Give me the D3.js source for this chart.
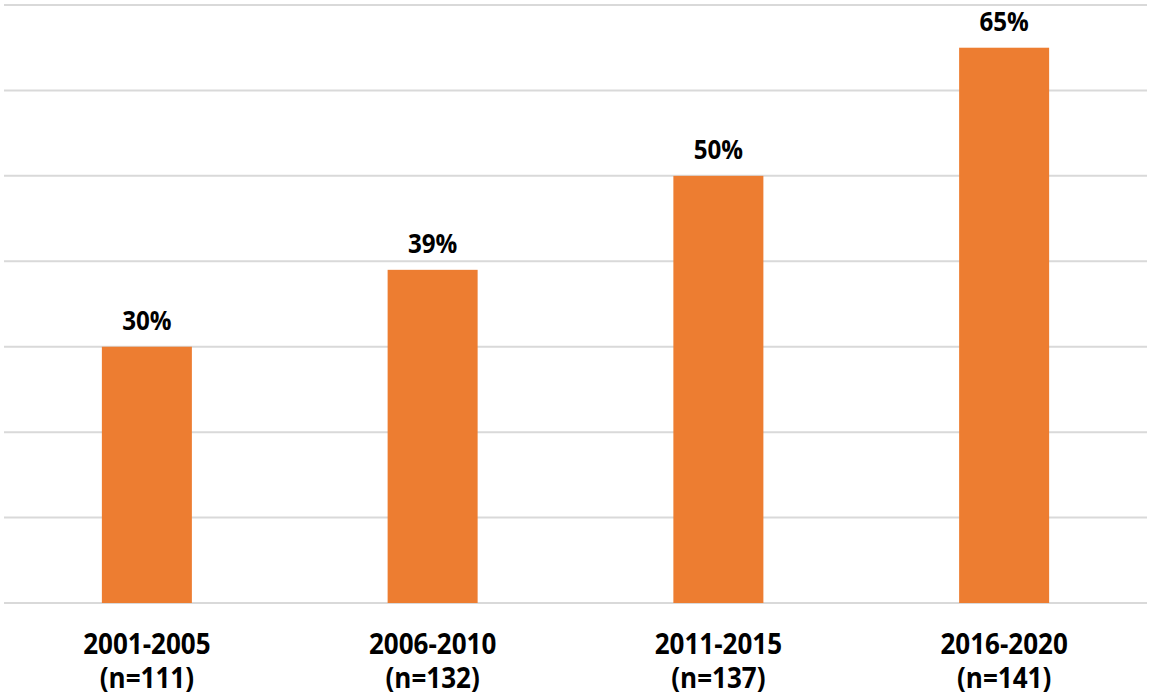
<!DOCTYPE html>
<html>
<head>
<meta charset="utf-8">
<script src="https://cdn.jsdelivr.net/npm/d3@7"></script>
<style>
  body { margin: 0; background: #fff; }
</style>
</head>
<body>
<div id="chart-area"></div>
<script>
// data
var periods = ["2001-2005", "2006-2010", "2011-2015", "2016-2020"];
var samples = ["(n=111)", "(n=132)", "(n=137)", "(n=141)"];
var shares = [30, 39, 50, 65];
var gridTicks = [0, 10, 20, 30, 40, 50, 60, 70];

var width = 1152, height = 700;
var plotLeft = 4, plotRight = 1147, plotTop = 5, plotBottom = 603;
var squeeze = 0.93; // the reference font is a bit narrower

var svg = d3.select("#chart-area")
    .append("svg")
        .attr("width", width)
        .attr("height", height);

var x = d3.scaleBand()
    .domain(periods)
    .range([plotLeft, plotRight])
    .paddingInner(0.685)
    .paddingOuter(0.3425);

var y = d3.scaleLinear()
    .domain([0, 70])
    .range([plotBottom, plotTop]);

// gridlines
svg.append("g")
    .selectAll("line")
    .data(gridTicks)
    .enter().append("line")
        .attr("x1", plotLeft)
        .attr("x2", plotRight)
        .attr("y1", function(d){ return y(d); })
        .attr("y2", function(d){ return y(d); })
        .attr("stroke", "#d9d9d9")
        .attr("stroke-width", 2);

// bars
svg.append("g")
    .selectAll("rect")
    .data(shares)
    .enter().append("rect")
        .attr("x", function(d, i){ return x(periods[i]); })
        .attr("width", x.bandwidth())
        .attr("y", function(d){ return y(d); })
        .attr("height", function(d){ return y(0) - y(d); })
        .attr("fill", "#ED7D31");

function addText(cx, cy, txt, size) {
    svg.append("g")
        .attr("transform", "translate(" + cx + "," + cy + ") scale(" + squeeze + ",1)")
        .append("text")
            .attr("text-anchor", "middle")
            .attr("font-family", "'Open Sans', sans-serif")
            .attr("font-weight", "bold")
            .attr("font-size", size + "px")
            .attr("fill", "#000")
            .text(txt);
}

// value labels
shares.forEach(function(d, i) {
    addText(x(periods[i]) + x.bandwidth() / 2, y(d) - 17, d + "%", 26);
});

// category labels
periods.forEach(function(p, i) {
    var cx = x(p) + x.bandwidth() / 2;
    addText(cx, 654, p, 28);
    addText(cx, 688, samples[i], 28);
});
</script>
</body>
</html>
